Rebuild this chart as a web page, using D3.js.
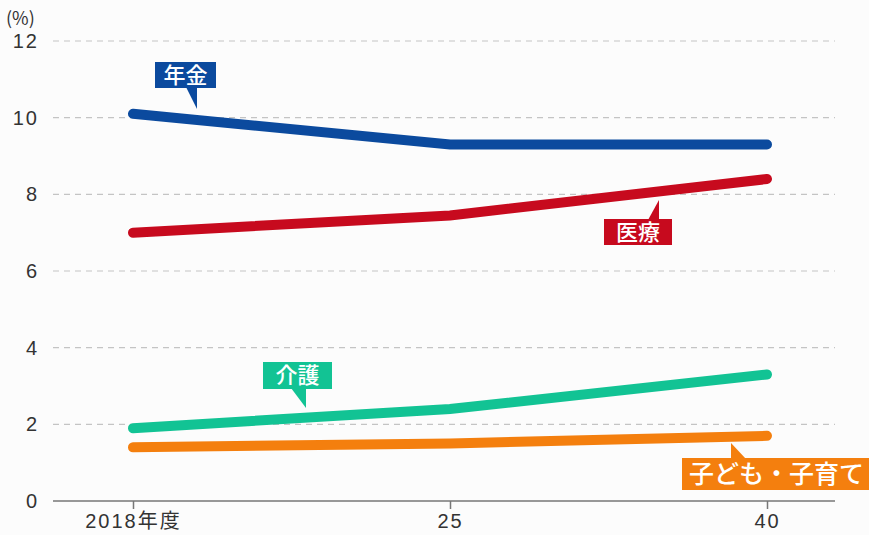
<!DOCTYPE html>
<html lang="ja">
<head>
<meta charset="utf-8">
<script src="https://cdn.jsdelivr.net/npm/d3@7"></script>
<style>
  html, body { margin: 0; padding: 0; background: #fcfcfc; }
  svg { display: block; font-family: "Noto Sans CJK JP", "Noto Sans", sans-serif; }
</style>
</head>
<body>
<svg id="chart" width="869" height="535"></svg>
<script>
// 社会保障給付費の対GDP比（%）
const years = ["2018年度", "25", "40"];
const yTicks = [0, 2, 4, 6, 8, 10, 12];

const pension   = [10.1, 9.3, 9.3];   // 年金
const medical   = [7.0, 7.45, 8.4];   // 医療
const nursing   = [1.9, 2.4, 3.3];    // 介護
const childcare = [1.4, 1.5, 1.7];    // 子ども・子育て

const seriesNames  = ["年金", "医療", "介護", "子ども・子育て"];
const seriesColors = ["#0b4a9e", "#c70a1e", "#12c394", "#f47f0e"];
const seriesValues = [pension, medical, nursing, childcare];

const svg = d3.select("#chart");
const W = 869, H = 535;
const margin = { left: 53, right: 34, top: 41, bottom: 34 };
const tickFont = "'Liberation Sans', 'Noto Sans CJK JP', sans-serif";

const x = d3.scalePoint().domain(years).range([133, 767]);
const y = d3.scaleLinear().domain([0, 12]).range([H - margin.bottom, margin.top]);

// dashed horizontal grid
svg.append("g")
  .selectAll("line")
  .data(yTicks.filter(d => d > 0))
  .join("line")
  .attr("x1", margin.left).attr("x2", W - margin.right)
  .attr("y1", d => y(d)).attr("y2", d => y(d))
  .attr("stroke", "#c4c4c4")
  .attr("stroke-width", 1.2)
  .attr("stroke-dasharray", "6,5");

// y axis labels
const yAxis = d3.axisLeft(y).tickValues(yTicks).tickSize(0).tickPadding(0);
const gy = svg.append("g").attr("transform", `translate(39,0)`).call(yAxis);
gy.attr("font-size", null).attr("font-family", null);
gy.select(".domain").remove();
gy.selectAll("text")
  .style("font-size", "20px")
  .style("font-family", tickFont)
  .style("letter-spacing", "2px")
  .attr("fill", "#333");

svg.append("text")
  .attr("x", 6).attr("y", 25)
  .style("font-size", "18px")
  .attr("fill", "#333")
  .text("(%)");

// x axis
const xAxis = d3.axisBottom(x).tickSize(8).tickPadding(5).tickSizeOuter(0);
const gx = svg.append("g").attr("transform", `translate(0,${y(0)})`).call(xAxis);
gx.attr("font-size", null).attr("font-family", null);
gx.select(".domain")
  .attr("d", `M${margin.left},0H${W - margin.right}`)
  .attr("stroke", "#777").attr("stroke-width", 1.5);
gx.selectAll(".tick line").attr("stroke", "#777").attr("stroke-width", 1.5);
gx.selectAll("text")
  .style("font-size", "20px")
  .style("font-family", tickFont)
  .style("letter-spacing", "2px")
  .attr("fill", "#333");

// series lines
const line = d3.line()
  .x((d, i) => x(years[i]))
  .y(d => y(d));

svg.append("g")
  .selectAll("path")
  .data(seriesValues)
  .join("path")
  .attr("d", d => line(d))
  .attr("fill", "none")
  .attr("stroke", (d, i) => seriesColors[i])
  .attr("stroke-width", 10)
  .attr("stroke-linecap", "round")
  .attr("stroke-linejoin", "miter");

// callout labels: box + pointer
const callouts = [
  { name: "年金", color: seriesColors[0], box: [155, 62, 61, 26], fs: 22,
    ptr: [[186, 87], [197, 87], [197, 109]] },
  { name: "医療", color: seriesColors[1], box: [604, 219, 68, 26], fs: 22,
    ptr: [[648, 220], [659, 220], [659, 200]] },
  { name: "介護", color: seriesColors[2], box: [263, 362, 69, 27], fs: 22,
    ptr: [[291, 388], [306, 388], [306, 408]] },
  { name: "子ども・子育て", color: seriesColors[3], box: [682, 458, 190, 32], fs: 25,
    ptr: [[731, 459], [746, 459], [731, 443]] }
];

const cg = svg.append("g").selectAll("g").data(callouts).join("g");
cg.append("path")
  .attr("d", d => "M" + d.ptr.map(p => p.join(",")).join("L") + "Z")
  .attr("fill", d => d.color);
cg.append("rect")
  .attr("x", d => d.box[0]).attr("y", d => d.box[1])
  .attr("width", d => d.box[2]).attr("height", d => d.box[3])
  .attr("fill", d => d.color);
cg.append("text")
  .attr("x", d => d.name.length > 2 ? d.box[0] + 7 : d.box[0] + d.box[2] / 2)
  .attr("y", d => d.box[1] + d.box[3] / 2)
  .attr("dy", "0.36em")
  .attr("text-anchor", d => d.name.length > 2 ? "start" : "middle")
  .style("font-size", d => d.fs + "px")
  .style("font-weight", 500)
  .attr("fill", "#fff")
  .text(d => d.name);
</script>
</body>
</html>
